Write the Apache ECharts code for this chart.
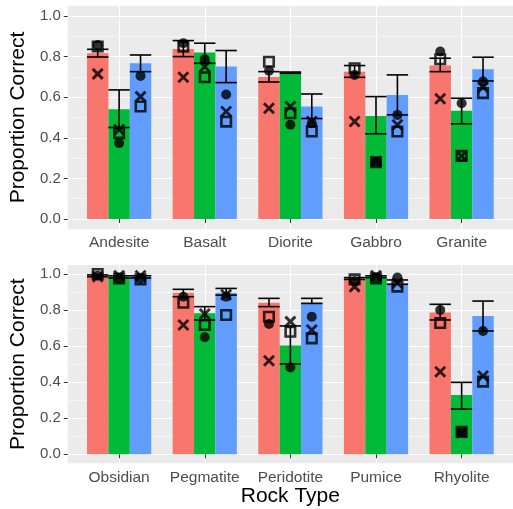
<!DOCTYPE html>
<html>
<head>
<meta charset="utf-8">
<script src="https://cdn.jsdelivr.net/npm/echarts@6/dist/echarts.min.js"></script>
<style>
html,body{margin:0;padding:0;background:#fff;}
#chart{width:513px;height:509px;}
</style>
</head>
<body>
<div id="chart"></div>
<script>
// ---------- DATA ----------
const topCats = ['Andesite', 'Basalt', 'Diorite', 'Gabbro', 'Granite'];
const bottomCats = ['Obsidian', 'Pegmatite', 'Peridotite', 'Pumice', 'Rhyolite'];
const yTicks = [0, 0.2, 0.4, 0.6, 0.8, 1.0];

// rows: red group, green group, blue group; columns: categories
const topMean   = [[0.816, 0.838, 0.700, 0.726, 0.756],
                   [0.541, 0.820, 0.721, 0.508, 0.533],
                   [0.767, 0.751, 0.554, 0.611, 0.738]];
const topLow    = [[0.798, 0.800, 0.675, 0.698, 0.726],
                   [0.451, 0.767, 0.718, 0.420, 0.469],
                   [0.726, 0.672, 0.495, 0.513, 0.680]];
const topHigh   = [[0.836, 0.879, 0.726, 0.756, 0.792],
                   [0.636, 0.866, 0.724, 0.603, 0.595],
                   [0.808, 0.830, 0.616, 0.710, 0.797]];
const topCircle = [[0.857, 0.866, 0.730, 0.710, 0.825],
                   [0.374, 0.787, 0.464, 0.280, 0.570],
                   [0.705, 0.613, 0.472, 0.513, 0.677]];
const topSquare = [[0.850, 0.849, 0.775, 0.743, 0.787],
                   [0.423, 0.698, 0.521, 0.280, 0.311],
                   [0.554, 0.480, 0.431, 0.431, 0.620]];
const topCross  = [[0.715, 0.698, 0.546, 0.480, 0.592],
                   [0.440, 0.750, 0.554, 0.285, 0.311],
                   [0.603, 0.530, 0.480, 0.464, 0.649]];

const bottomMean   = [[0.990, 0.896, 0.841, 0.975, 0.787],
                      [0.985, 0.782, 0.603, 0.985, 0.329],
                      [0.985, 0.896, 0.841, 0.948, 0.767]];
const bottomLow    = [[0.985, 0.874, 0.819, 0.970, 0.745],
                      [0.978, 0.745, 0.501, 0.980, 0.251],
                      [0.978, 0.883, 0.837, 0.943, 0.684]];
const bottomHigh   = [[0.995, 0.915, 0.865, 0.980, 0.832],
                      [0.990, 0.819, 0.712, 0.990, 0.399],
                      [0.990, 0.920, 0.865, 0.967, 0.850]];
const bottomCircle = [[0.990, 0.874, 0.723, 0.960, 0.800],
                      [0.975, 0.649, 0.482, 0.980, 0.120],
                      [0.975, 0.874, 0.763, 0.980, 0.684]];
const bottomSquare = [[1.000, 0.841, 0.763, 0.970, 0.728],
                      [0.975, 0.717, 0.680, 0.975, 0.125],
                      [0.970, 0.773, 0.643, 0.930, 0.403]];
const bottomCross  = [[0.985, 0.717, 0.519, 0.930, 0.458],
                      [0.990, 0.778, 0.736, 0.990, 0.120],
                      [0.990, 0.885, 0.689, 0.950, 0.434]];

// ---------- STYLE ----------
const barColors = ['#F8766D', '#00BA38', '#619CFF'];
const FONT = 'Liberation Sans, Arial, sans-serif';
const dodge = 0.25;          // category units per bar
const offsets = [-dodge, 0, dodge];

const chart = echarts.init(document.getElementById('chart'), null, {renderer: 'canvas'});

function xAxisFor(gridIndex, cats, withName) {
  const ax = {
    type: 'value', gridIndex: gridIndex, min: 0.4, max: 5.6,
    minInterval: 1, maxInterval: 1,
    axisLine: {show: false},
    axisTick: {show: true, length: 4, customValues: [1, 2, 3, 4, 5],
               lineStyle: {color: '#333333', width: 1}},
    axisLabel: {show: true, customValues: [1, 2, 3, 4, 5], margin: 6,
                color: '#4D4D4D', fontSize: 15.5, fontFamily: FONT,
                formatter: function (v) { const i = Math.round(v) - 1; return cats[i] || ''; }},
    splitLine: {show: true, lineStyle: {color: '#FFFFFF', width: 1.1}}
  };
  if (withName) {
    ax.name = 'Rock Type';
    ax.nameLocation = 'middle';
    ax.nameGap = 21;
    ax.nameTextStyle = {fontSize: 21, color: '#000', fontFamily: FONT};
  }
  return ax;
}
function yAxisFor(gridIndex) {
  return {
    type: 'value', gridIndex: gridIndex, min: -0.05, max: 1.05,
    minInterval: 0.2, maxInterval: 0.2,
    name: 'Proportion Correct', nameLocation: 'middle', nameGap: 37,
    nameTextStyle: {fontSize: 21, color: '#000', fontFamily: FONT},
    axisLine: {show: false},
    axisTick: {show: true, length: 4, customValues: yTicks,
               lineStyle: {color: '#333333', width: 1}},
    axisLabel: {show: true, customValues: yTicks, margin: 7,
                color: '#4D4D4D', fontSize: 15, fontFamily: FONT,
                formatter: function (v) { return v.toFixed(1); }},
    splitLine: {show: true, lineStyle: {color: '#FFFFFF', width: 1.1}},
    minorTick: {show: false, splitNumber: 2},
    minorSplitLine: {show: true, lineStyle: {color: '#FFFFFF', width: 0.5}}
  };
}

function barSeries(gridIndex, mean, low, high) {
  const out = [];
  for (let g = 0; g < 3; g++) {
    const data = mean[g].map(function (m, i) { return [i + 1, m, low[g][i], high[g][i]]; });
    const off = offsets[g];
    const color = barColors[g];
    out.push({
      type: 'custom', xAxisIndex: gridIndex, yAxisIndex: gridIndex, silent: true, z: 2,
      data: data,
      encode: {x: 0, y: 1},
      renderItem: function (params, api) {
        const x = api.value(0) + off;
        const m = api.value(1), lo = api.value(2), hi = api.value(3);
        const pL = api.coord([x - dodge / 2, 0]);
        const pR = api.coord([x + dodge / 2, m]);
        const pC = api.coord([x, lo]);
        const pH = api.coord([x, hi]);
        const ls = {stroke: '#000', lineWidth: 1.6};
        return {
          type: 'group',
          children: [
            {type: 'rect', shape: {x: pL[0], y: pR[1], width: pR[0] - pL[0], height: pL[1] - pR[1]},
             style: {fill: color}},
            {type: 'line', shape: {x1: pC[0], y1: pC[1], x2: pH[0], y2: pH[1]}, style: ls},
            {type: 'line', shape: {x1: pL[0], y1: pC[1], x2: pR[0], y2: pC[1]}, style: ls},
            {type: 'line', shape: {x1: pL[0], y1: pH[1], x2: pR[0], y2: pH[1]}, style: ls}
          ]
        };
      }
    });
  }
  return out;
}

function markerData(vals) {
  const d = [];
  for (let g = 0; g < 3; g++) {
    vals[g].forEach(function (v, i) { d.push([i + 1 + offsets[g], v]); });
  }
  return d;
}
function markerSeries(gridIndex, circles, squares, crosses) {
  return [
    {type: 'scatter', xAxisIndex: gridIndex, yAxisIndex: gridIndex, silent: true, z: 3,
     symbol: 'rect', symbolSize: 9.5,
     itemStyle: {color: 'rgba(0,0,0,0)', borderColor: '#000', borderWidth: 2.6},
     data: markerData(squares)},
    {type: 'scatter', xAxisIndex: gridIndex, yAxisIndex: gridIndex, silent: true, z: 3,
     symbol: 'path://M0,0L10,10M0,10L10,0', symbolSize: 10,
     itemStyle: {color: 'none', borderColor: '#000', borderWidth: 2.9},
     data: markerData(crosses)},
    {type: 'scatter', xAxisIndex: gridIndex, yAxisIndex: gridIndex, silent: true, z: 3,
     symbol: 'circle', symbolSize: 10,
     itemStyle: {color: '#000', borderWidth: 0},
     data: markerData(circles)}
  ];
}

const option = {
  animation: false,
  backgroundColor: '#FFFFFF',
  grid: [
    {left: 67.2, width: 450.6, top: 5.85, height: 223.35, show: true,
     backgroundColor: '#EBEBEB', borderWidth: 0, containLabel: false},
    {left: 67.2, width: 450.6, top: 265, height: 198.3, show: true,
     backgroundColor: '#EBEBEB', borderWidth: 0, containLabel: false}
  ],
  xAxis: [xAxisFor(0, topCats, false), xAxisFor(1, bottomCats, true)],
  yAxis: [yAxisFor(0), yAxisFor(1)],
  series: [].concat(
    barSeries(0, topMean, topLow, topHigh),
    markerSeries(0, topCircle, topSquare, topCross),
    barSeries(1, bottomMean, bottomLow, bottomHigh),
    markerSeries(1, bottomCircle, bottomSquare, bottomCross)
  )
};
chart.setOption(option);
</script>
</body>
</html>
